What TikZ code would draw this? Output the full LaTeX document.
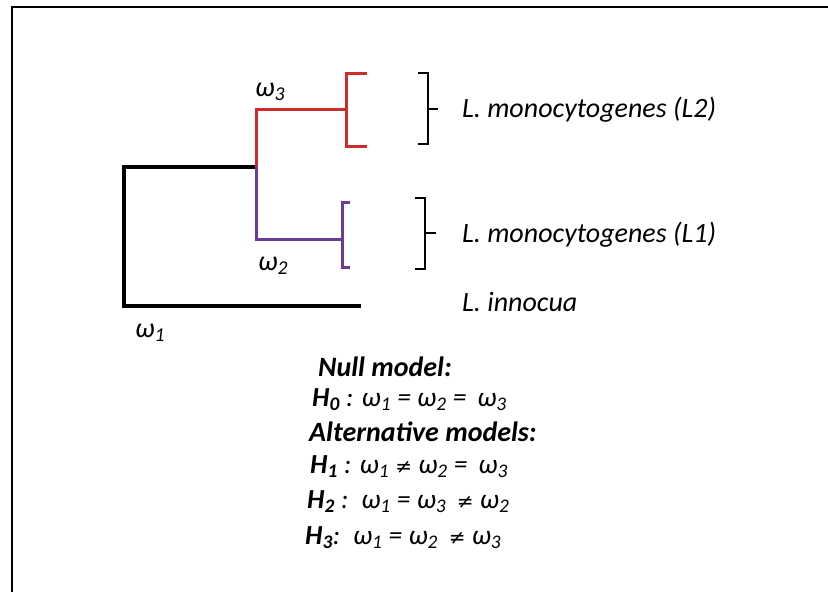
\documentclass[tikz,border=0pt]{standalone}
\usepackage{fontspec}
\setmainfont{Carlito}
\newfontfamily\symfont{DejaVu Sans}
\newcommand{\nequal}{{\symfont\fontsize{20}{24}\selectfont ≠}}
\usetikzlibrary{positioning}

\begin{document}
\begin{tikzpicture}[x=1pt, y=-1pt,
  branch/.style={line width=3.6pt, line cap=rect},
  clade/.style={line width=3pt},
  brk/.style={line width=1.8pt},
  taxon/.style={anchor=west, inner sep=0pt, font=\fontsize{28}{32}\selectfont\itshape},
  rate/.style={inner sep=0pt, font=\fontsize{28}{32}\selectfont\itshape},
  hyp/.style={anchor=west, inner sep=0pt, font=\fontsize{27.5}{32}\selectfont\itshape},
  hd/.style={hyp, font=\fontsize{28}{32}\selectfont\bfseries\itshape}
]
\definecolor{l2red}{RGB}{205,45,40}
\definecolor{l1purple}{RGB}{105,60,150}
\useasboundingbox (0,0) rectangle (828,592);
\draw[line width=2pt] (828,7) -- (12,7) -- (12,592);

% tree joints
\coordinate (rtop) at (124,167);
\coordinate (rbot) at (124,306);
\coordinate (inner) at (256,167);
\coordinate (j2) at (256,109);
\coordinate (j1) at (256,239);
\coordinate (c2) at (346,109);
\coordinate (c1) at (342,239);
\coordinate (inno) at (359,306);

\draw[branch] (inner) -- (rtop) -- (rbot) -- (inno);
\draw[clade, l2red] (inner) -- (j2) -- (c2);
\draw[clade, l1purple] (inner) -- (j1) -- (c1);
\draw[clade, l2red] (367,73) -- (346,73) -- (346,146) -- (367,146);
\draw[clade, l1purple] (350,202) -- (342,202) -- (342,267) -- (350,267);

% right brackets
\draw[brk] (418,73) -- (428,73) -- (428,144) -- (418,144);
\draw[brk] (428,109) -- (438,109);
\draw[brk] (415,198) -- (425,198) -- (425,269) -- (415,269);
\draw[brk] (425,233) -- (436,233);

\node[taxon] (tx2) at (462,110) {L. monocytogenes (L2)};
\node[taxon] (tx1) at (462,235) {L. monocytogenes (L1)};
\node[taxon] (txin) at (462,302) {L. innocua};

\node[rate] (w3) at (270,92) {ω\textsubscript{3}};
\node[rate] (w2) at (273,266) {ω\textsubscript{2}};
\node[rate] (w1) at (150,333) {ω\textsubscript{1}};

\node[hd] (nullhd) at (318,367) {Null model:};
\node[hyp] (h0) at (312,400) {\textbf{H\textsubscript{0}} : ω\textsubscript{1} = ω\textsubscript{2} = \,ω\textsubscript{3}};
\node[hd] (althd) at (309,432) {Alternative models:};
\node[hyp] (h1) at (310,467) {\textbf{H\textsubscript{1}} : ω\textsubscript{1} \nequal{} ω\textsubscript{2} = \,ω\textsubscript{3}};
\node[hyp] (h2) at (307,502) {\textbf{H\textsubscript{2}} : \,ω\textsubscript{1} = ω\textsubscript{3} \,\nequal{} ω\textsubscript{2}};
\node[hyp] (h3) at (305,538) {\textbf{H\textsubscript{3}}: \,ω\textsubscript{1} = ω\textsubscript{2} \,\nequal{} ω\textsubscript{3}};
\end{tikzpicture}
\end{document}
